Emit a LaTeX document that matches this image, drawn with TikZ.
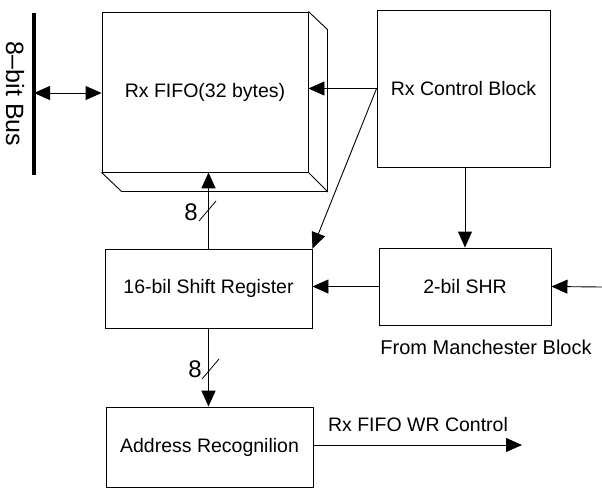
\documentclass[tikz,border=0pt]{standalone}
\usepackage{fontspec}
\setmainfont{Liberation Sans}
\usetikzlibrary{arrows.meta,calc}

\tikzstyle{block}=[draw=black,line width=0.9pt,inner sep=0pt,font=\fontsize{19.5}{22}\selectfont]
\tikzstyle{sig}=[line width=0.9pt,-{Triangle[length=16pt,width=14pt]}]
\tikzstyle{bus}=[line width=1.8pt,-{Triangle[length=16pt,width=14pt]}]
\tikzstyle{lbl}=[inner sep=0pt,font=\fontsize{19.5}{22}\selectfont]

\begin{document}
\begin{tikzpicture}[x=1pt,y=-1pt]

   \useasboundingbox (0,0) rectangle (602,488);

   % 8-bit bus

   \draw[line width=3.5pt] (34,13) coordinate(bustop) -- (34,175) coordinate(busbot);
   \node[lbl,font=\fontsize{25}{28}\selectfont,rotate=-90] (buslbl) at (15,94) {8--bit Bus};
   \coordinate (busport) at (34,93);

   % Rx FIFO (front face + depth)

   \node[block,minimum width=206pt,minimum height=160pt] (fifo) at (205,92) {Rx FIFO(32 bytes)};
   \draw[line width=0.9pt] (fifo.north east) -- ++(19,18) -- ($(fifo.south east)+(19,19)$) -- (fifo.south east);
   \draw[line width=0.9pt] (fifo.south west) -- ++(20,19) -- ($(fifo.south east)+(19,19)$);

   % Control and shift blocks

   \node[block,minimum width=173pt,minimum height=157pt] (ctrl) at (463.5,88.5) {Rx Control Block};
   \node[block,minimum width=207pt,minimum height=79pt] (sreg) at (208.5,288.5) {16-bil Shift Register};
   \node[block,minimum width=172pt,minimum height=77pt] (shr) at (465,286.5) {2-bil SHR};
   \node[block,minimum width=207pt,minimum height=80pt] (addr) at (209.5,447) {Address Recognilion};

   \node[lbl,font=\fontsize{20}{22}\selectfont] (manlbl) at (486,347) {From Manchester Block};
   \coordinate (manin) at (602,287);
   \coordinate (wrout) at (522,445);
   \node[lbl] (wrlbl) at (418,425) {Rx FIFO WR Control};

   % Connections

   \draw[line width=0.9pt,{Triangle[length=16pt,width=14pt]}-{Triangle[length=16pt,width=14pt]}] (busport) -- (busport -| fifo.west);
   \draw[sig] (ctrl.west) -- (ctrl.west -| fifo.east);
   \draw[sig] (ctrl.west) -- (sreg.north east);
   \draw[sig] (ctrl.south -| shr.north) -- (shr.north);
   \draw[sig] (shr.west) -- (shr.west -| sreg.east);
   \draw[sig] (manin) -- (shr.east);
   \draw[bus] (sreg.north) -- (sreg.north |- fifo.south);
   \draw[bus] (sreg.south) -- (sreg.south |- addr.north);
   \draw[sig] (addr.east |- wrout) -- (wrout);

   % Bus widths

   \draw[line width=0.8pt] (199,221) -- (216,201);
   \node[lbl,font=\fontsize{24}{26}\selectfont] (w1) at (191,212) {8};
   \draw[line width=0.8pt] (202,379) -- (219,359);
   \node[lbl,font=\fontsize{24}{26}\selectfont] (w2) at (195,369) {8};

\end{tikzpicture}
\end{document}
